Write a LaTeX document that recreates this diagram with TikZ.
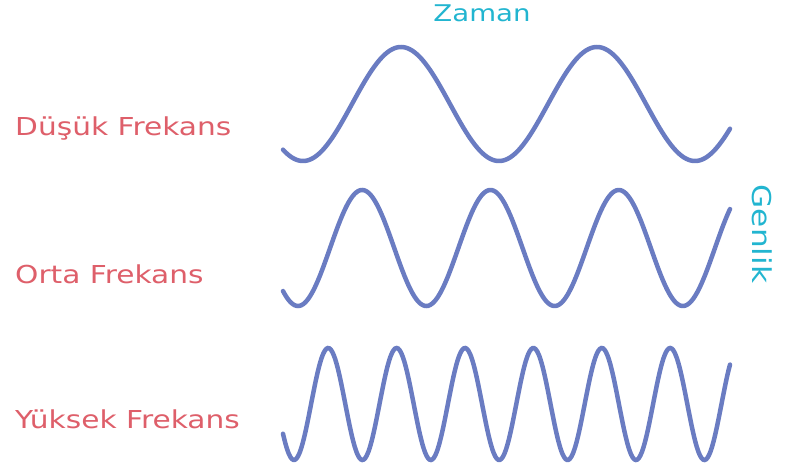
\documentclass[tikz,border=0pt]{standalone}
\usepackage{fontspec}
\usepackage{xcolor}
\newfontfamily\lblfont[FakeStretch=1.2]{DejaVu Sans}
\definecolor{freqred}{HTML}{DE5F6A}
\definecolor{axcyan}{HTML}{22B5D0}
\definecolor{waveblue}{HTML}{6A7CC2}
\usetikzlibrary{positioning}
\tikzset{
  lbl/.style={text=freqred, inner sep=0pt, anchor=base west,
              font=\lblfont\fontsize{24.7}{30}\selectfont},
  axlbl/.style={text=axcyan, inner sep=0pt,
                font=\lblfont\fontsize{23}{28}\selectfont},
  wave/.style={draw=waveblue, line width=4.5pt, line cap=round,
               samples=300, smooth},
}

\begin{document}
\begin{tikzpicture}[x=1pt, y=-1pt]
  \useasboundingbox (0,0) rectangle (785,471);
  % labels
  \node[lbl] (low) at (15,135) {Düşük Frekans};
  \node[lbl] (mid) at (15,283) {Orta Frekans};
  \node[lbl] (high) at (15,428) {Yüksek Frekans};
  \node[axlbl, anchor=base] (time) at (482,21) {Zaman};
  \node[axlbl, rotate=-90, font=\lblfont\fontsize{26}{30}\selectfont] (amp) at (762,234) {Genlik};
  % waves
  \draw[wave, domain=283:730] plot (\x, {104+57*cos((\x-303)*(360/196))});
  \draw[wave, domain=283:730] plot (\x, {248+58*cos((\x-298)*(360/128.3))});
  \draw[wave, domain=283:730] plot (\x, {404+56*cos((\x-294)*(360/68.4))});
\end{tikzpicture}
\end{document}
